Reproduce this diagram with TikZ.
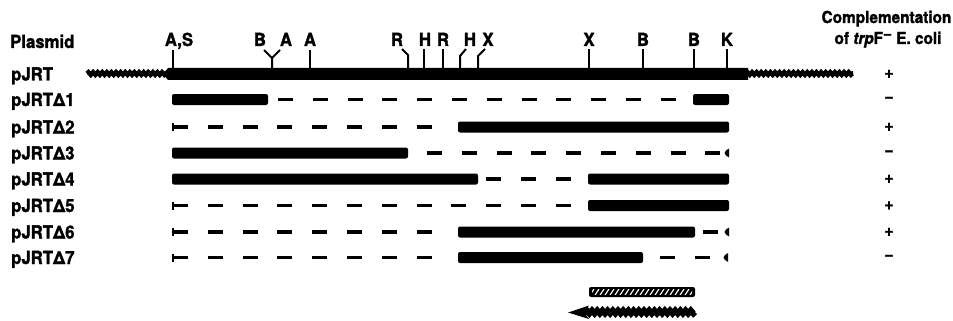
\documentclass[tikz,border=0pt]{standalone}
\usepackage{fontspec}
\setmainfont{TeX Gyre Heros}[FakeStretch=0.93, BoldFeatures={FakeBold=1.5}, BoldItalicFeatures={FakeBold=1.5}]
\usetikzlibrary{decorations.pathmorphing}

\tikzset{
  lbl/.style={font=\fontsize{18}{21}\selectfont\bfseries, inner sep=0pt, anchor=base west},
  site/.style={font=\fontsize{18}{21}\selectfont\bfseries, inner sep=0pt, anchor=base},
  head/.style={font=\fontsize{16.5}{20}\selectfont\bfseries, inner sep=0pt, anchor=base},
  sign/.style={font=\fontsize{17}{20}\selectfont\bfseries, inner sep=0pt, anchor=center},
  tickln/.style={line width=2pt},
  dashln/.style={line width=3.4pt, dash pattern=on 15pt off 19.8pt},
  wavy/.style={line width=4.5pt, decorate,
    decoration={snake, amplitude=1.3pt, segment length=4.6pt}},
}

% solid segment of a construct: from x1 to x2 on row y
\newcommand{\solidseg}[3]{\fill[rounded corners=2pt] (#1,#3-5.5) rectangle (#2,#3+5.5);}
% left end of a deleted stretch
\newcommand{\leftstop}[1]{\draw[line width=2pt] (173,#1-4) -- (173,#1+4);}
% right end of a deleted stretch
\newcommand{\rightstop}[2]{\fill (#1,#2-4.5) -- (#1,#2+4.5) -- (#1-3,#2+2.5) -- (#1-4.5,#2) -- (#1-3,#2-2.5) -- cycle;}

\begin{document}
\begin{tikzpicture}[x=1pt, y=-1pt]
\useasboundingbox (0,0) rectangle (953,321);

% column headings
\node[lbl] (hplasmid) at (10,48) {Plasmid};
\node[head] (hcomp1) at (886.5,23) {Complementation};
\node[head] (hcomp2) at (888,44) {of \textit{trp}F\raisebox{5pt}{−} E. coli};

% row labels
\node[lbl] (l0) at (11,80.5) {pJRT};
\node[lbl] (l1) at (11,106)  {pJRTΔ1};
\node[lbl] (l2) at (11,133.5) {pJRTΔ2};
\node[lbl] (l3) at (11,159.5) {pJRTΔ3};
\node[lbl] (l4) at (11,185.5) {pJRTΔ4};
\node[lbl] (l5) at (11,212)  {pJRTΔ5};
\node[lbl] (l6) at (11,238.5) {pJRTΔ6};
\node[lbl] (l7) at (11,264)  {pJRTΔ7};

% complementation results
\node[sign] (s0) at (889,74)    {+};
\node[sign] (s1) at (889,99.5)  {−};
\node[sign] (s2) at (889,127)   {+};
\node[sign] (s3) at (889,153)   {−};
\node[sign] (s4) at (889,179)   {+};
\node[sign] (s5) at (889,205.5) {+};
\node[sign] (s6) at (889,232)   {+};
\node[sign] (s7) at (889,257.5) {−};

% parent plasmid: vector arms and insert
\draw[wavy] (87,73.5) -- (166,73.5);
\draw[wavy] (746,73.5) -- (853,73.5);
\fill (163,74) -- (168,68) -- (748,68) -- (748,80) -- (168,80) -- cycle;

% restriction sites
\draw[tickln] (173,68) -- (173,50);
\node[site] (sAS) at (179,46) {A,S};
\draw[tickln] (272,68) -- (272,58) -- (264,50);
\draw[tickln] (272,58) -- (280,50);
\node[site] (sB1) at (260,46) {B};
\node[site] (sA1) at (286,46) {A};
\draw[tickln] (310,68) -- (310,50);
\node[site] (sA2) at (310,46) {A};
\draw[tickln] (408,68) -- (408,55) -- (402,49);
\node[site] (sR1) at (397,46) {R};
\draw[tickln] (424,68) -- (424,49);
\node[site] (sH1) at (425,46) {H};
\draw[tickln] (443,68) -- (443,49);
\node[site] (sR2) at (443,46) {R};
\draw[tickln] (460,68) -- (460,56) -- (466,49);
\node[site] (sH2) at (470,46) {H};
\draw[tickln] (478,68) -- (478,56) -- (485,49);
\node[site] (sX1) at (488,46) {X};
\draw[tickln] (589,68) -- (589,49);
\node[site] (sX2) at (589,46) {X};
\draw[tickln] (643,68) -- (643,49);
\node[site] (sB2) at (643,46) {B};
\draw[tickln] (694,68) -- (694,49);
\node[site] (sB3) at (694,46) {B};
\draw[tickln] (727,68) -- (727,49);
\node[site] (sK) at (727,46) {K};

% deletion derivatives
% Delta1
\solidseg{172}{268}{99.5}
\draw[dashln] (278,99.5) -- (678,99.5);
\solidseg{693}{729}{99.5}
% Delta2
\leftstop{127}
\draw[dashln] (173,127) -- (433,127);
\solidseg{458}{729}{127}
% Delta3
\solidseg{172}{408}{153}
\draw[dashln] (427,153) -- (722,153);
\rightstop{729}{153}
% Delta4
\solidseg{172}{478}{179}
\draw[dashln] (486,179) -- (573,179);
\solidseg{588}{729}{179}
% Delta5
\leftstop{205.5}
\draw[dashln] (173,205.5) -- (573,205.5);
\solidseg{588}{729}{205.5}
% Delta6
\leftstop{232}
\draw[dashln] (173,232) -- (433,232);
\solidseg{458}{695}{232}
\draw[dashln] (703,232) -- (722,232);
\rightstop{729}{232}
% Delta7
\leftstop{257.5}
\draw[dashln] (173,257.5) -- (433,257.5);
\solidseg{458}{643}{257.5}
\draw[dashln] (660,257.5) -- (714,257.5);
\rightstop{728}{257.5}

% coding region (hatched bar) and transcript direction (wavy arrow)
\fill[rounded corners=2pt] (589,287) rectangle (695,297);
\begin{scope}
  \clip (592,289.3) rectangle (692,294.7);
  \foreach \k in {0,...,22} {
    \draw[white, line width=1.1pt] (590+5*\k,295) -- (594+5*\k,289);
  }
\end{scope}
\draw[line width=6pt, decorate,
  decoration={snake, amplitude=1.5pt, segment length=5.2pt}] (695,312) -- (584,312);
\fill (568,312.5) -- (589,305.5) -- (584,312.5) -- (589,319) -- cycle;
\end{tikzpicture}
\end{document}
